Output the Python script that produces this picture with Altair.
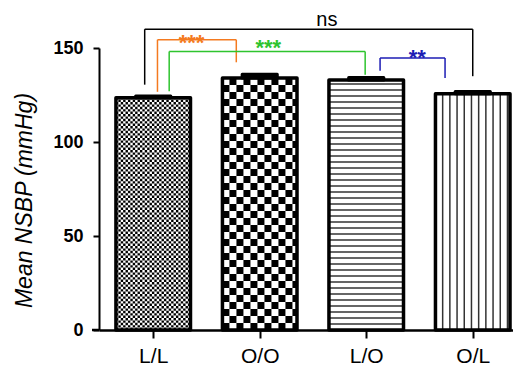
import math
import altair as alt
import pandas as pd

# ---------------- data ----------------
groups = ["L/L", "O/O", "L/O", "O/L"]
means = [123.5, 134.0, 133.0, 125.7]
sems = [1.0, 2.0, 1.3, 1.2]
patterns = ["fine_check", "coarse_check", "hlines", "vlines"]

y_ticks = [0, 50, 100, 150]

# significance brackets (in data units: x = group index, y = mmHg)
sig_labels = ["ns", "***", "***", "**"]
sig_colors = ["#000000", "#f47a20", "#2ec42e", "#1c1cb4"]
sig_x_left = [-0.08, 0.04, 0.15, 2.13]
sig_x_right = [3.0, 0.78, 1.99, 2.74]
sig_y_top = [160.0, 154.4, 148.2, 144.7]
sig_y_left_end = [130.5, 126.7, 127.0, 137.9]
sig_y_right_end = [135.0, 142.4, 135.8, 134.1]
sig_label_x = [1.63, 0.36, 1.08, 2.48]
sig_label_y = [161.5, 149.0, 146.4, 140.8]

# ---------------- layout / style ----------------
W, H = 414, 282
Y_DOMAIN = [0, 150]
X_DOMAIN = [-0.509, 3.378]
PPU_Y = H / (Y_DOMAIN[1] - Y_DOMAIN[0])
PPU_X = W / (X_DOMAIN[1] - X_DOMAIN[0])
HALF = 0.35
CAP_HALF = 0.165
FONT = "Liberation Sans, Arial, Helvetica, sans-serif"

xs = alt.Scale(domain=X_DOMAIN, nice=False, zero=False)
ys = alt.Scale(domain=Y_DOMAIN, nice=False, zero=True)

label_expr = "[" + ",".join("'%s'" % g for g in groups) + "][datum.value]"

X_AX = alt.Axis(values=list(range(len(groups))), labelExpr=label_expr,
                tickSize=8, tickWidth=2, domainWidth=2.5, grid=False,
                domainColor="black", tickColor="black",
                labelFont=FONT, labelFontSize=21, labelColor="black",
                labelPadding=7, labelFontWeight="normal", title=None)
Y_AX = alt.Axis(values=y_ticks, tickSize=6, tickWidth=2, domainWidth=2,
                grid=False, domainColor="black", tickColor="black",
                labelFont=FONT, labelFontSize=18, labelFontWeight="bold",
                labelColor="black", labelPadding=10,
                title="Mean NSBP (mmHg)", titleFont=FONT,
                titleFontSize=23, titleFontStyle="italic",
                titleFontWeight="normal", titleColor="black",
                titlePadding=16, titleY=H / 2 + 11)


def X(field):
    return alt.X(field, scale=xs, axis=X_AX, title=None)


def Y(field):
    return alt.Y(field, scale=ys, axis=Y_AX, title="Mean NSBP (mmHg)")


bars = pd.DataFrame({
    "group": groups,
    "pos": list(range(len(groups))),
    "mean": means,
    "sem": sems,
})
bars["left"] = bars["pos"] - HALF
bars["right"] = bars["pos"] + HALF
bars["zero"] = 0.0
bars["top"] = bars["mean"] + bars["sem"]
bars["cl"] = bars["pos"] - CAP_HALF
bars["cr"] = bars["pos"] + CAP_HALF

base_fill = alt.Chart(bars).mark_rect(fill="white").encode(
    x=X("left:Q"), x2="right:Q", y=Y("zero:Q"), y2="mean:Q")

layers = [base_fill]


# ---- pattern layers (decoration derived from the bars) ----
def checker_layer(i, cell):
    rows = []
    total = means[i] * PPU_Y
    n = int(math.floor(total / cell))
    for k in range(n):
        rows.append({"x": i - HALF, "x2": i + HALF,
                     "y": (k + 0.5) * cell / PPU_Y, "par": k % 2})
    df = pd.DataFrame(rows)
    out = []
    for par in (0, 1):
        sub = df[df["par"] == par]
        out.append(alt.Chart(sub).mark_rule(
            color="black", strokeWidth=cell, strokeDash=[cell, cell],
            strokeDashOffset=cell * par, strokeCap="butt").encode(
            x=X("x:Q"), x2="x2:Q", y=Y("y:Q")))
    rem = total - n * cell
    if rem > 0.5:
        top = pd.DataFrame({"x": [i - HALF], "x2": [i + HALF],
                            "y": [(n * cell + rem / 2) / PPU_Y]})
        out.append(alt.Chart(top).mark_rule(
            color="black", strokeWidth=rem, strokeDash=[cell, cell],
            strokeDashOffset=cell * (n % 2), strokeCap="butt").encode(
            x=X("x:Q"), x2="x2:Q", y=Y("y:Q")))
    return out


def hline_layer(i, gap):
    n = int(math.floor(means[i] * PPU_Y / gap))
    df = pd.DataFrame([{"x": i - HALF, "x2": i + HALF, "y": k * gap / PPU_Y}
                       for k in range(1, n + 1)])
    return [alt.Chart(df).mark_rule(color="#333333", strokeWidth=1.5).encode(
        x=X("x:Q"), x2="x2:Q", y=Y("y:Q"))]


def vline_layer(i, gap):
    rows = []
    k = 1
    while i - HALF + k * gap / PPU_X < i + HALF - 0.5 / PPU_X:
        rows.append({"x": i - HALF + k * gap / PPU_X, "y": 0.0, "y2": means[i]})
        k += 1
    df = pd.DataFrame(rows)
    return [alt.Chart(df).mark_rule(color="#333333", strokeWidth=1.5).encode(
        x=X("x:Q"), y=Y("y:Q"), y2="y2:Q")]


for i, p in enumerate(patterns):
    if p == "fine_check":
        layers += checker_layer(i, 2.4)
    elif p == "coarse_check":
        layers += checker_layer(i, 7.0)
    elif p == "hlines":
        layers += hline_layer(i, 6.0)
    else:
        layers += vline_layer(i, 7.2)

# ---- bar outlines ----
outline = alt.Chart(bars).mark_rect(fillOpacity=0, stroke="black", strokeWidth=3.5,
                                    strokeJoin="round").encode(
    x=X("left:Q"), x2="right:Q", y=Y("zero:Q"), y2="mean:Q")
layers.append(outline)

# ---- error caps ----
caps = alt.Chart(bars).mark_rect(fill="black", stroke="black", strokeWidth=3,
                                 strokeJoin="round").encode(
    x=X("cl:Q"), x2="cr:Q", y=Y("mean:Q"), y2="top:Q")
layers.append(caps)

# ---- x-axis extension to the left of the y axis ----
ext = pd.DataFrame({"x": [X_DOMAIN[0] - 7 / PPU_X], "x2": [X_DOMAIN[0]], "y": [0.0]})
layers.append(alt.Chart(ext).mark_rule(color="black", strokeWidth=2.5).encode(
    x=X("x:Q"), x2="x2:Q", y=Y("y:Q")))

# ---- significance brackets ----
segs = []
for j in range(len(sig_labels)):
    c = sig_colors[j]
    segs.append({"x": sig_x_left[j], "x2": sig_x_right[j], "y": sig_y_top[j], "y2": sig_y_top[j], "c": c})
    segs.append({"x": sig_x_left[j], "x2": sig_x_left[j], "y": sig_y_left_end[j], "y2": sig_y_top[j], "c": c})
    segs.append({"x": sig_x_right[j], "x2": sig_x_right[j], "y": sig_y_right_end[j], "y2": sig_y_top[j], "c": c})
segdf = pd.DataFrame(segs)
layers.append(alt.Chart(segdf).mark_rule(strokeWidth=1.5).encode(
    x=X("x:Q"), x2="x2:Q", y=Y("y:Q"), y2="y2:Q",
    color=alt.Color("c:N", scale=None)))

sigdf = pd.DataFrame({"lab": sig_labels, "x": sig_label_x, "y": sig_label_y, "c": sig_colors})
ns_df = sigdf[sigdf["lab"] == "ns"]
star_df = sigdf[sigdf["lab"] != "ns"]
layers.append(alt.Chart(ns_df).mark_text(font=FONT, fontSize=20, baseline="alphabetic",
                                         align="center").encode(
    x=X("x:Q"), y=Y("y:Q"), text="lab:N", color=alt.Color("c:N", scale=None)))
layers.append(alt.Chart(star_df).mark_text(font=FONT, fontSize=22, fontWeight="bold",
                                           baseline="alphabetic", align="center").encode(
    x=X("x:Q"), y=Y("y:Q"), text="lab:N", color=alt.Color("c:N", scale=None)))

chart = alt.layer(*layers).properties(
    width=W, height=H,
    padding={"top": 2, "left": 5, "right": 0, "bottom": 0},
    background="white",
).configure_view(stroke=None)

chart.save("out.html", embed_options={"renderer": "svg", "actions": False})
